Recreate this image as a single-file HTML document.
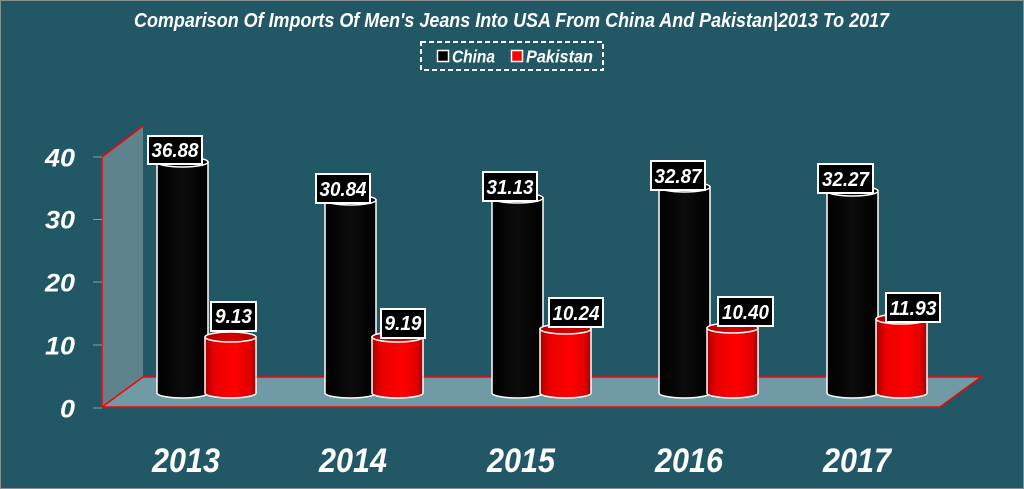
<!DOCTYPE html>
<html><head><meta charset="utf-8"><style>
html,body{margin:0;padding:0;background:#225766;}
svg{display:block;}
text{font-family:"Liberation Sans",sans-serif;font-weight:bold;font-style:italic;fill:#fff;}
</style></head><body>
<svg width="1024" height="489" viewBox="0 0 1024 489" xmlns="http://www.w3.org/2000/svg">
<defs>
<linearGradient id="gb" x1="0" x2="1" y1="0" y2="0">
<stop offset="0" stop-color="#000"/><stop offset="0.5" stop-color="#0c0c0c"/><stop offset="1" stop-color="#000"/>
</linearGradient>
<linearGradient id="gr" x1="0" x2="1" y1="0" y2="0">
<stop offset="0" stop-color="#a80000"/><stop offset="0.18" stop-color="#e80000"/><stop offset="0.6" stop-color="#ff0000"/><stop offset="0.88" stop-color="#e00000"/><stop offset="1" stop-color="#a00000"/>
</linearGradient>
<linearGradient id="gt" x1="0" x2="1" y1="0" y2="0">
<stop offset="0" stop-color="#b00000"/><stop offset="0.5" stop-color="#d80000"/><stop offset="1" stop-color="#b00000"/>
</linearGradient>
</defs>
<rect x="0" y="0" width="1024" height="489" fill="#225766"/>
<rect x="0.5" y="0.5" width="1023" height="488" fill="none" stroke="#8a8f91" stroke-width="1"/>

<text x="511.5" y="27" font-size="20" text-anchor="middle" textLength="755" lengthAdjust="spacingAndGlyphs">Comparison Of Imports Of Men's Jeans Into USA From China And Pakistan|2013 To 2017</text>

<rect x="421" y="42" width="182" height="28" fill="none" stroke="#fff" stroke-width="2" stroke-dasharray="5,3"/>
<rect x="437.5" y="50.5" width="11" height="11" fill="#000" stroke="#fff" stroke-width="1.5"/>
<text x="452" y="62.5" font-size="17.5" textLength="43" lengthAdjust="spacingAndGlyphs">China</text>
<rect x="511.5" y="50.5" width="11" height="11" fill="#ff0000" stroke="#fff" stroke-width="1.5"/>
<text x="526" y="62.5" font-size="17.5" textLength="67" lengthAdjust="spacingAndGlyphs">Pakistan</text>

<!-- wall and floor -->
<polygon points="102,157 143,126 143,377 102,407" fill="#5f838c"/>
<polygon points="102,407 143,377 981,377 940,407" fill="#6f9aa6"/>
<polyline points="102,407 102,157 143,126" fill="none" stroke="#ff0000" stroke-width="1.5"/>
<polygon points="102,407 143,377 981,377 940,407" fill="none" stroke="#ff0000" stroke-width="1.5"/>

<!-- ticks -->
<g stroke="#8a9da3" stroke-width="1">
<line x1="93" y1="157" x2="102" y2="157"/>
<line x1="93" y1="219.5" x2="102" y2="219.5"/>
<line x1="93" y1="282" x2="102" y2="282"/>
<line x1="93" y1="345" x2="102" y2="345"/>
<line x1="93" y1="408" x2="102" y2="408"/>
</g>
<g font-size="25" text-anchor="end">
<text x="75" y="166.5" textLength="30" lengthAdjust="spacingAndGlyphs">40</text>
<text x="75" y="228.5" textLength="30" lengthAdjust="spacingAndGlyphs">30</text>
<text x="75" y="291.5" textLength="30" lengthAdjust="spacingAndGlyphs">20</text>
<text x="75" y="354.5" textLength="30" lengthAdjust="spacingAndGlyphs">10</text>
<text x="75" y="417.5" textLength="15" lengthAdjust="spacingAndGlyphs">0</text>
</g>

<!-- bars -->
<g stroke="#fff" stroke-width="1.5">
<path d="M157,162 L157,393 A25.5,5 0 0 0 208,393 L208,162 Z" fill="url(#gb)"/>
<ellipse cx="182.5" cy="162" rx="25.5" ry="5" fill="#000"/>
<path d="M205,337 L205,393 A25.5,5 0 0 0 256,393 L256,337 Z" fill="url(#gr)"/>
<ellipse cx="230.5" cy="337" rx="25.5" ry="5" fill="url(#gt)"/>

<path d="M325,200 L325,393 A25.5,5 0 0 0 376,393 L376,200 Z" fill="url(#gb)"/>
<ellipse cx="350.5" cy="200" rx="25.5" ry="5" fill="#000"/>
<path d="M372,337 L372,393 A25.5,5 0 0 0 423,393 L423,337 Z" fill="url(#gr)"/>
<ellipse cx="397.5" cy="337" rx="25.5" ry="5" fill="url(#gt)"/>

<path d="M492,198 L492,393 A25.5,5 0 0 0 543,393 L543,198 Z" fill="url(#gb)"/>
<ellipse cx="517.5" cy="198" rx="25.5" ry="5" fill="#000"/>
<path d="M540,329 L540,393 A25.5,5 0 0 0 591,393 L591,329 Z" fill="url(#gr)"/>
<ellipse cx="565.5" cy="329" rx="25.5" ry="5" fill="url(#gt)"/>

<path d="M659,187 L659,393 A25.5,5 0 0 0 710,393 L710,187 Z" fill="url(#gb)"/>
<ellipse cx="684.5" cy="187" rx="25.5" ry="5" fill="#000"/>
<path d="M707,328 L707,393 A25.5,5 0 0 0 758,393 L758,328 Z" fill="url(#gr)"/>
<ellipse cx="732.5" cy="328" rx="25.5" ry="5" fill="url(#gt)"/>

<path d="M827,191 L827,393 A25.5,5 0 0 0 878,393 L878,191 Z" fill="url(#gb)"/>
<ellipse cx="852.5" cy="191" rx="25.5" ry="5" fill="#000"/>
<path d="M876,319 L876,393 A25.5,5 0 0 0 927,393 L927,319 Z" fill="url(#gr)"/>
<ellipse cx="901.5" cy="319" rx="25.5" ry="5" fill="url(#gt)"/>
</g>

<!-- data labels -->
<g stroke="#fff" stroke-width="2" fill="#000">
<rect x="148" y="136" width="54" height="28"/>
<rect x="211" y="302" width="45" height="29"/>
<rect x="316" y="174" width="54" height="29"/>
<rect x="381" y="309" width="44" height="29"/>
<rect x="483" y="172" width="54" height="29"/>
<rect x="549" y="298" width="54" height="29"/>
<rect x="651" y="161" width="54" height="29"/>
<rect x="718" y="297" width="55" height="29"/>
<rect x="818" y="164" width="55" height="29"/>
<rect x="886" y="293" width="54" height="29"/>
</g>
<g font-size="20" text-anchor="middle">
<text x="175" y="157" textLength="47" lengthAdjust="spacingAndGlyphs">36.88</text>
<text x="233.5" y="323" textLength="37" lengthAdjust="spacingAndGlyphs">9.13</text>
<text x="343" y="196" textLength="47" lengthAdjust="spacingAndGlyphs">30.84</text>
<text x="403" y="330" textLength="37" lengthAdjust="spacingAndGlyphs">9.19</text>
<text x="510" y="194" textLength="47" lengthAdjust="spacingAndGlyphs">31.13</text>
<text x="576" y="320" textLength="47" lengthAdjust="spacingAndGlyphs">10.24</text>
<text x="678" y="183" textLength="47" lengthAdjust="spacingAndGlyphs">32.87</text>
<text x="745.5" y="319" textLength="47" lengthAdjust="spacingAndGlyphs">10.40</text>
<text x="845.5" y="186" textLength="47" lengthAdjust="spacingAndGlyphs">32.27</text>
<text x="913" y="315" textLength="47" lengthAdjust="spacingAndGlyphs">11.93</text>
</g>

<!-- year labels -->
<g font-size="34" text-anchor="middle">
<text x="186" y="472" textLength="68" lengthAdjust="spacingAndGlyphs">2013</text>
<text x="353" y="472" textLength="68" lengthAdjust="spacingAndGlyphs">2014</text>
<text x="521" y="472" textLength="68" lengthAdjust="spacingAndGlyphs">2015</text>
<text x="689" y="472" textLength="68" lengthAdjust="spacingAndGlyphs">2016</text>
<text x="857" y="472" textLength="68" lengthAdjust="spacingAndGlyphs">2017</text>
</g>
</svg>
</body></html>
